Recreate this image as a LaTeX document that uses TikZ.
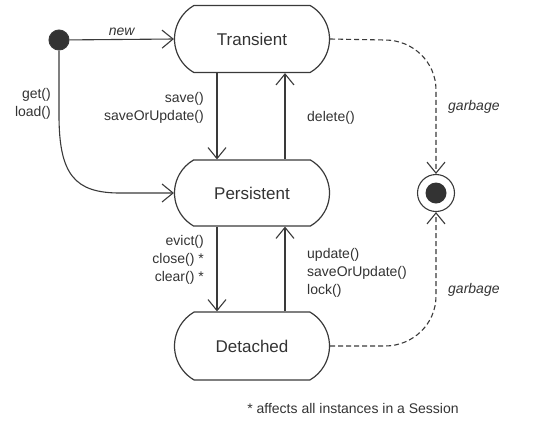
\documentclass[tikz,border=0pt]{standalone}
\usepackage{fontspec}
\setmainfont{Liberation Sans}
\usetikzlibrary{arrows.meta,shapes.misc}
\definecolor{ink}{HTML}{3A3A3A}
\definecolor{txt}{HTML}{333333}
\tikzset{
  x=1pt,y=-1pt,
  state/.style={rounded rectangle, rounded rectangle arc length=120, draw=ink, line width=1.2pt,
    minimum width=155pt, minimum height=67pt, font=\fontsize{17}{20}\selectfont, text=txt, inner sep=0pt},
  trans/.style={draw=ink, line width=1.1pt, -{Straight Barb[length=11pt,width=18pt,line width=1.1pt]}},
  gtrans/.style={trans, dash pattern=on 5pt off 3pt},
  lbl/.style={font=\fontsize{14}{18}\selectfont, text=txt, inner sep=0pt, align=right},
  lbll/.style={lbl, align=left},
}
\begin{document}
\begin{tikzpicture}
\useasboundingbox (0,0) rectangle (541,432);
\node[state] (T) at (252,39) {Transient};
\node[state, minimum height=66pt] (P) at (252,193) {Persistent};
\node[state, minimum height=68pt] (D) at (252,346) {Detached};
\node[circle, fill=txt, draw=ink, line width=1pt, minimum size=20pt, inner sep=0pt] (init) at (59,40) {};
\node[circle, draw=ink, line width=1.1pt, minimum size=37pt, inner sep=0pt] (fin) at (436,193) {};
\node[circle, fill=txt, minimum size=21pt, inner sep=0pt] (finin) at (436,193) {};

\coordinate (gl1) at (59,115);
\coordinate (gl2) at (120,193);
\draw[trans] (init) -- (T.west) node[midway, above=3pt, lbl, font=\fontsize{14}{18}\selectfont\itshape] (newl) {new};
\draw[trans] (init) -- (gl1) .. controls (59,175) and (75,193) .. (gl2) -- (P.west);
\node[lbl, anchor=east] (getl) at (51,104) {get()\\load()};

\draw[trans] (T.south -| 217,0) -- (P.north -| 217,0);
\node[lbl, anchor=east] (savel) at (204,108) {save()\\saveOrUpdate()};
\draw[trans] (P.north -| 285,0) -- (T.south -| 285,0);
\node[lbll, anchor=west] (dell) at (307,118) {delete()};

\draw[trans] (P.south -| 217,0) -- (D.north -| 217,0);
\node[lbl, anchor=east] (evl) at (204,260) {evict()\\close() *\\clear() *};
\draw[trans] (D.north -| 285,0) -- (P.south -| 285,0);
\node[lbll, anchor=west] (upl) at (307,273) {update()\\saveOrUpdate()\\lock()};

\coordinate (g1) at (385,40);
\coordinate (g2) at (436,90);
\draw[gtrans] (T.east) -- (g1) to[out=0,in=90] (g2) -- (fin.north);
\node[lbll, anchor=west, font=\fontsize{14}{18}\selectfont\itshape] (gb1) at (448,107) {garbage};
\coordinate (g3) at (385,346);
\coordinate (g4) at (436,296);
\draw[gtrans] (D.east) -- (g3) to[out=0,in=-90] (g4) -- (fin.south);
\node[lbll, anchor=west, font=\fontsize{14}{18}\selectfont\itshape] (gb2) at (448,290) {garbage};

\node[lbl] (foot) at (353,408) {* affects all instances in a Session};
\end{tikzpicture}
\end{document}
